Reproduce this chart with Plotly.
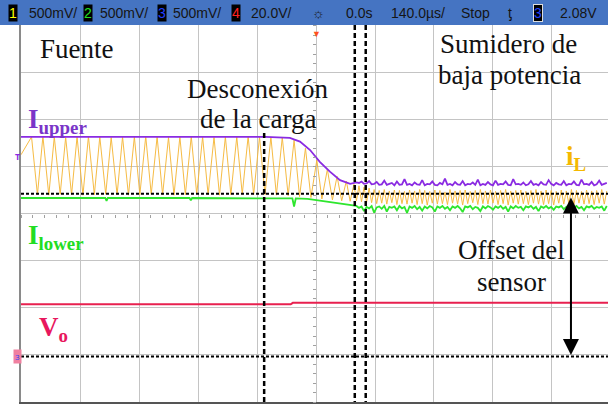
import plotly.graph_objects as go

# horizontal: time in us (140 us/div), vertical: screen divisions (center = 0)

# I_upper (purple) before / during the load disconnection
IU_T = [-700, -120, -62, -38, -14, 9, 33, 57, 81]
IU_V = [1.64, 1.64, 1.62, 1.54, 1.36, 1.11, 0.90, 0.72, 0.64]

# inductor current i_L (orange) vertices: start, peak/valley pairs
IL_T = [-700, -675, -661, -648, -634, -621, -607, -594, -580, -567, -553, -540, -526,
        -513, -499, -486, -472, -459, -445, -431, -418, -404, -391, -377, -364, -350,
        -337, -323, -310, -296, -283, -269, -256, -242, -229, -215, -202, -188, -175,
        -161, -148, -134, -121, -107, -94, -80, -66, -52, -39, -25, -12, 2, 14, 27,
        39, 50, 61, 72, 81, 90]
IL_V = [1.26, 1.64, 0.41, 1.65, 0.40, 1.64, 0.42, 1.63, 0.41, 1.64, 0.40, 1.65, 0.41,
        1.64, 0.42, 1.63, 0.41, 1.64, 0.40, 1.64, 0.41, 1.65, 0.42, 1.64, 0.41, 1.63,
        0.40, 1.64, 0.41, 1.65, 0.42, 1.64, 0.41, 1.63, 0.40, 1.64, 0.41, 1.64, 0.42,
        1.65, 0.41, 1.64, 0.41, 1.64, 0.40, 1.63, 0.39, 1.57, 0.37, 1.40, 0.35, 1.15,
        0.32, 0.95, 0.30, 0.80, 0.28, 0.70, 0.27, 0.63]

# I_lower (green) before / during the transition
GL_T = [-700, -500, -497, -494, -300, -297, -294, -56, -52, -48, -20, 20, 60, 90]
GL_V = [0.34, 0.34, 0.28, 0.34, 0.34, 0.29, 0.34, 0.33, 0.16, 0.33, 0.32, 0.27, 0.21, 0.18]

# light-load (sink) region, sampled trace
T_NOISE = [96, 102, 108, 114, 120, 126, 132, 138, 144, 150,
           156, 162, 168, 174, 180, 186, 192, 198, 204, 210,
           216, 222, 228, 234, 240, 246, 252, 258, 264, 270,
           276, 282, 288, 294, 300, 306, 312, 318, 324, 330,
           336, 342, 348, 354, 360, 366, 372, 378, 384, 390,
           396, 402, 408, 414, 420, 426, 432, 438, 444, 450,
           456, 462, 468, 474, 480, 486, 492, 498, 504, 510,
           516, 522, 528, 534, 540, 546, 552, 558, 564, 570,
           576, 582, 588, 594, 600, 606, 612, 618, 624, 630,
           636, 642, 648, 654, 660, 666, 672, 678, 684, 690]
IL_N = [0.28, 0.60, 0.26, 0.57, 0.25, 0.55, 0.24, 0.52, 0.22, 0.50,
        0.23, 0.52, 0.21, 0.49, 0.24, 0.51, 0.20, 0.50, 0.22, 0.48,
        0.21, 0.51, 0.23, 0.49, 0.20, 0.52, 0.22, 0.50, 0.19, 0.48,
        0.23, 0.51, 0.21, 0.50, 0.22, 0.47, 0.20, 0.52, 0.23, 0.49,
        0.21, 0.50, 0.19, 0.51, 0.22, 0.48, 0.24, 0.50, 0.20, 0.52,
        0.22, 0.49, 0.21, 0.51, 0.23, 0.48, 0.20, 0.50, 0.22, 0.52,
        0.19, 0.49, 0.23, 0.50, 0.21, 0.51, 0.22, 0.48, 0.20, 0.50,
        0.23, 0.52, 0.21, 0.49, 0.20, 0.51, 0.22, 0.50, 0.19, 0.48,
        0.23, 0.51, 0.21, 0.49, 0.22, 0.52, 0.20, 0.50, 0.23, 0.48,
        0.21, 0.51, 0.22, 0.49, 0.20, 0.50, 0.23, 0.52, 0.21, 0.49]
IU_N = [0.67, 0.66, 0.69, 0.64, 0.65, 0.70, 0.63, 0.64, 0.68, 0.62,
        0.63, 0.71, 0.62, 0.64, 0.66, 0.61, 0.69, 0.62, 0.63, 0.74,
        0.62, 0.64, 0.61, 0.67, 0.63, 0.62, 0.72, 0.61, 0.64, 0.63,
        0.69, 0.62, 0.61, 0.66, 0.63, 0.75, 0.62, 0.64, 0.61, 0.68,
        0.63, 0.62, 0.70, 0.61, 0.64, 0.63, 0.67, 0.62, 0.73, 0.61,
        0.64, 0.62, 0.68, 0.63, 0.61, 0.71, 0.62, 0.64, 0.63, 0.69,
        0.62, 0.61, 0.74, 0.63, 0.64, 0.62, 0.67, 0.61, 0.63, 0.70,
        0.62, 0.64, 0.61, 0.68, 0.63, 0.62, 0.72, 0.64, 0.61, 0.66,
        0.63, 0.62, 0.70, 0.61, 0.64, 0.63, 0.69, 0.62, 0.61, 0.73,
        0.63, 0.64, 0.62, 0.68, 0.61, 0.63, 0.71, 0.62, 0.64, 0.66]
GL_N = [0.17, 0.13, 0.16, 0.06, 0.15, 0.12, 0.17, 0.03, 0.14, 0.16,
        0.11, 0.17, 0.05, 0.15, 0.13, 0.16, 0.08, 0.17, 0.12, 0.15,
        0.02, 0.16, 0.13, 0.17, 0.10, 0.15, 0.07, 0.16, 0.12, 0.17,
        0.14, 0.05, 0.16, 0.13, 0.17, 0.11, 0.15, 0.08, 0.16, 0.13,
        0.17, 0.12, 0.04, 0.16, 0.14, 0.17, 0.10, 0.15, 0.13, 0.06,
        0.16, 0.12, 0.17, 0.14, 0.09, 0.16, 0.13, 0.17, 0.11, 0.15,
        0.05, 0.16, 0.12, 0.17, 0.13, 0.15, 0.08, 0.16, 0.14, 0.17,
        0.11, 0.15, 0.06, 0.16, 0.13, 0.17, 0.12, 0.15, 0.09, 0.16,
        0.14, 0.17, 0.10, 0.15, 0.05, 0.16, 0.13, 0.17, 0.12, 0.15,
        0.08, 0.16, 0.14, 0.17, 0.11, 0.15, 0.13, 0.16, 0.07, 0.17]

# output voltage V_o (red)
VO_T = [-700, -60, -55, 693]
VO_V = [-1.92, -1.92, -1.89, -1.89]

# reference levels and cursors
IL_LEVEL = 0.43        # dashed level of i_L
ZERO_LEVEL = -3.03     # sensor zero
T_DISC = -123          # load disconnection
T_CUR = [92, 118]      # time cursors
T_ARROW = 605

HEADER = [("1", "#FFFF00"), ("500mV/", None), ("2", "#22E022"), ("500mV/", None),
          ("3", "#2040FF"), ("500mV/", None), ("4", "#FF2020"), ("20.0V/", None),
          ("☼", None), ("0.0s", None), ("140.0µs/", None), ("Stop", None),
          ("ƫ", None), ("3", "#2040FF"), ("2.08V", None)]
HEADER_X = [13, 53, 88, 124, 162, 197, 236, 271, 319, 359, 418, 475, 510, 538, 578]

C = dict(purple="#8A2BE2", orange="#F6B531", green="#2EE62E", red="#E8204F",
         grid="#C4C4C4", header="#4574C2")
SERIF = "Liberation Serif, Times New Roman, serif"

fig = go.Figure()

fig.add_trace(go.Scatter(x=IL_T + T_NOISE, y=IL_V + IL_N, mode="lines",
                         line=dict(color=C["orange"], width=1), opacity=0.9,
                         hoverinfo="skip"))
fig.add_trace(go.Scatter(x=GL_T + T_NOISE, y=GL_V + GL_N, mode="lines",
                         line=dict(color=C["green"], width=1.8), hoverinfo="skip"))
fig.add_trace(go.Scatter(x=IU_T + T_NOISE, y=IU_V + IU_N, mode="lines",
                         line=dict(color=C["purple"], width=1.8), hoverinfo="skip"))
fig.add_trace(go.Scatter(x=VO_T, y=VO_V, mode="lines",
                         line=dict(color=C["red"], width=2), hoverinfo="skip"))
# empty traces so the centre graticule axes get drawn
fig.add_trace(go.Scatter(x=[], y=[], xaxis="x2", yaxis="y", hoverinfo="skip"))
fig.add_trace(go.Scatter(x=[], y=[], xaxis="x", yaxis="y2", hoverinfo="skip"))

# dashed references
for lvl in [IL_LEVEL, ZERO_LEVEL]:
    fig.add_shape(type="line", xref="x", yref="y", x0=-700, x1=693, y0=lvl, y1=lvl,
                  line=dict(color="black", width=2, dash="3px,2px"))
fig.add_shape(type="line", xref="x", yref="y", x0=T_DISC, x1=T_DISC, y0=1.72, y1=-4,
              line=dict(color="black", width=2.5, dash="5px,3px"))
for tc in T_CUR:
    fig.add_shape(type="line", xref="x", yref="y", x0=tc, x1=tc, y0=4.02, y1=-4,
                  line=dict(color="black", width=2.5, dash="5px,3px"))

# offset arrow
fig.add_annotation(x=T_ARROW, y=ZERO_LEVEL + 0.03, ax=T_ARROW, ay=IL_LEVEL - 0.05,
                   xref="x", yref="y", axref="x", ayref="y", text="",
                   showarrow=True, arrowhead=2, arrowsize=1.6, arrowwidth=2,
                   arrowside="end+start", arrowcolor="black")

# header bar
fig.add_shape(type="rect", xref="paper", yref="paper", x0=-21 / 587, x1=1,
              y0=1, y1=1 + 25 / 377, fillcolor=C["header"], line=dict(width=0),
              layer="above")
for (txt, col), px in zip(HEADER, HEADER_X):
    box = col is not None
    fig.add_annotation(xref="paper", yref="paper", x=(px - 21) / 587, y=1 + 12.5 / 377,
                       text=txt, showarrow=False, xanchor="center", yanchor="middle",
                       font=dict(family="Liberation Sans, Arial, sans-serif", size=14,
                                 color=col if box else "#151515"),
                       bgcolor="black" if box else None,
                       bordercolor="#DDDDDD" if (box and px > 500) else None,
                       borderwidth=1 if box else 0, borderpad=0)

# trigger marker on top, markers on the left
fig.add_annotation(xref="x", yref="paper", x=0, y=1, text="▼", showarrow=False,
                   yanchor="top", font=dict(size=9, color="#FF5020"))
fig.add_annotation(xref="paper", yref="y", x=-8 / 587, y=1.22, text="<b>T</b>",
                   showarrow=False, font=dict(size=9, color=C["purple"]))
fig.add_annotation(xref="paper", yref="y", x=-8 / 587, y=ZERO_LEVEL, text="3",
                   showarrow=False, bgcolor="#F080A0",
                   font=dict(size=8, color="#2040FF"))

# text labels
labels = [
    ("Fuente", -568, 3.51),
    ("Desconexión", -138, 2.66),
    ("de la carga", -138, 2.02),
    ("Sumidero de", 456, 3.62),
    ("baja potencia", 458, 2.96),
    ("Offset del", 463, -0.77),
    ("sensor", 463, -1.45),
]
for txt, x, y in labels:
    fig.add_annotation(x=x, y=y, text=txt, showarrow=False, xanchor="center",
                       font=dict(family=SERIF, size=27, color="#111111"))

sym = [
    ("<b>I<sub>upper</sub></b>", -688, 1.98, "#7A35C8"),
    ("<b>i<sub>L</sub></b>", 588, 1.19, "#F5B800"),
    ("<b>I<sub>lower</sub></b>", -688, -0.49, "#22DD22"),
    ("<b>V<sub>o</sub></b>", -662, -2.45, "#E8175D"),
]
for txt, x, y, col in sym:
    fig.add_annotation(x=x, y=y, text=txt, showarrow=False, xanchor="left",
                       font=dict(family=SERIF, size=27, color=col))

fig.update_layout(
    width=608, height=404,
    margin=dict(l=21, r=0, t=25, b=2),
    plot_bgcolor="white", paper_bgcolor="white",
    showlegend=False,
    xaxis=dict(range=[-700, 692.9], dtick=140, tick0=0, showticklabels=False,
               gridcolor=C["grid"], gridwidth=1, zeroline=False,
               showline=True, linecolor="#555555", linewidth=1.5, mirror=False),
    yaxis=dict(range=[-4, 4.02], dtick=1, tick0=0, showticklabels=False,
               gridcolor=C["grid"], gridwidth=1, zeroline=False,
               showline=True, linecolor="#8A8A8A", linewidth=1.5),
    # centre graticule with small division marks
    xaxis2=dict(matches="x", overlaying="x", anchor="free", position=4 / 8.02,
                showgrid=False, zeroline=False, showline=False, showticklabels=False,
                ticks="outside", ticklen=3, tickcolor="#A0A0A0", dtick=28, tick0=0),
    yaxis2=dict(matches="y", overlaying="y", anchor="free", position=700 / 1392.9,
                showgrid=False, zeroline=False, showline=False, showticklabels=False,
                ticks="outside", ticklen=3, tickcolor="#A0A0A0", dtick=0.2, tick0=0),
)

# drop the default page margin so the figure sits at the window's corner
fig.write_html("out.html", config={"displayModeBar": False},
               post_script="document.body.style.margin='0';"
                           "document.body.style.overflow='hidden';")
